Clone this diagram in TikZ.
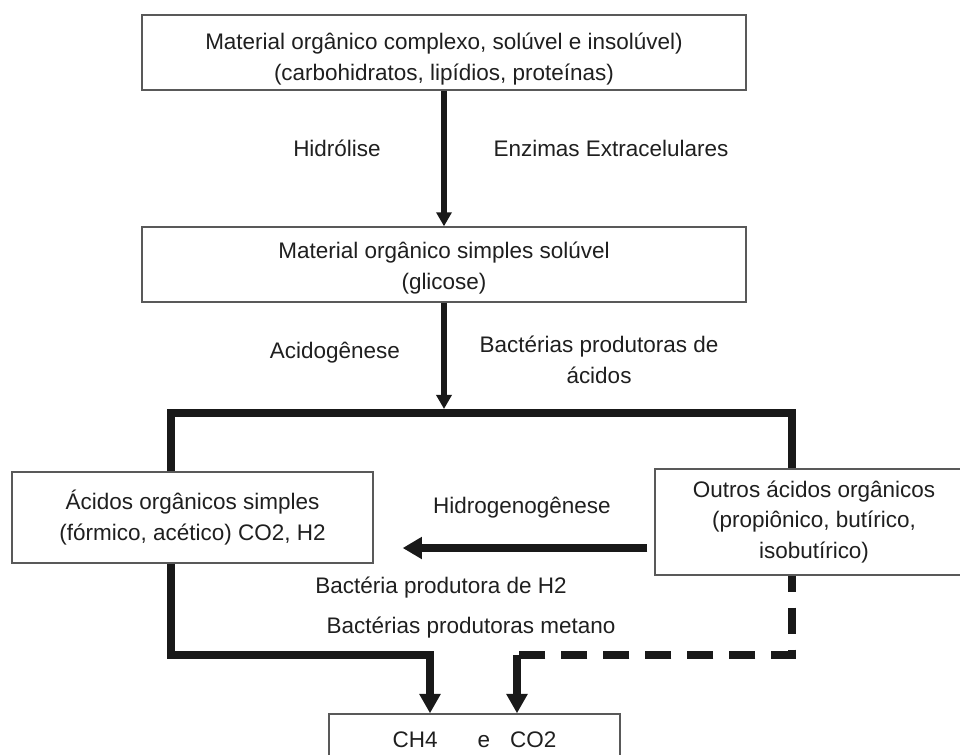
\documentclass[tikz,border=0pt]{standalone}
\usepackage{fontspec}
\setmainfont{Liberation Sans}
\usetikzlibrary{arrows.meta}

\begin{document}
\begin{tikzpicture}[
        x=0.02cm, y=-0.02cm,
        every node/.style={align=center, text=black!88, font=\fontsize{12.8}{17.5}\selectfont},
        box/.style={draw=black!65, line width=0.8pt, fill=white, inner sep=0pt},
        lbl/.style={inner sep=0pt},
        flow/.style={draw=black!90, line width=3.4pt, -{Triangle[length=8pt, width=8.5pt]}},
        flowb/.style={draw=black!90, line width=4pt, -{Triangle[length=11pt, width=11.5pt]}},
        hflow/.style={draw=black!90, line width=5pt, -{Triangle[length=11pt, width=12pt]}},
        bar/.style={draw=black!90, line width=4.5pt},
        dashflow/.style={draw=black!90, line width=4.5pt, dash pattern=on 0.52cm off 0.32cm, dash phase=0.2cm}
    ]
        \useasboundingbox (0,0) rectangle (960,754);

        % Nodes
        \node[box, minimum width=12.08cm, minimum height=1.5cm, text height=34pt] (mat) at (444,52.5)
            {Material orgânico complexo, solúvel e insolúvel)\\(carbohidratos, lipídios, proteínas)};
        \node[box, minimum width=12.08cm, minimum height=1.5cm, text height=31pt] (simp) at (444,264.5)
            {Material orgânico simples solúvel\\(glicose)};
        \node[box, minimum width=7.22cm, minimum height=1.82cm] (acsimp) at (192.5,517.5)
            {Ácidos orgânicos simples\\(fórmico, acético) CO2, H2};
        \node[box, minimum width=6.36cm, minimum height=2.12cm] (outros) at (814,522)
            {Outros ácidos orgânicos\\(propiônico, butírico,\\isobutírico)};
        \node[box, minimum width=5.82cm, minimum height=1.04cm] (ch4) at (474.5,740)
            {CH4\hspace{0.8cm}e\hspace{0.4cm}CO2};

        % Labels
        \node[lbl] (hidro) at (337,148) {Hidrólise};
        \node[lbl] (enz) at (611,148) {Enzimas Extracelulares};
        \node[lbl] (acido) at (335,353) {Acidogênese};
        \node[lbl] (bacac) at (599,360) {Bactérias produtoras de\\ácidos};
        \node[lbl] (hgen) at (522,508) {Hidrogenogênese};
        \node[lbl] (bach) at (441,588) {Bactéria produtora de H2};
        \node[lbl] (bacm) at (471,628) {Bactérias produtoras metano};

        % Junctions
        \coordinate (split) at (444,409);
        \coordinate (barL) at (171,413);
        \coordinate (barR) at (792,413);
        \coordinate (hlev) at (0,548);
        \coordinate (jL) at (430,655);
        \coordinate (jR) at (517,655);

        % Arrows
        \draw[flow] (mat) -- (simp);
        \draw[flow] (simp) -- (split);
        \draw[bar] (acsimp.north -| barL) -- (barL) -- (barR) -- (outros.north -| barR);
        \draw[hflow, shorten <=0.14cm, shorten >=0.58cm] (outros.west |- hlev) -- (acsimp.east |- hlev);
        \draw[flowb] (acsimp.south -| barL) |- (jL) -- (jL |- ch4.north);
        \draw[dashflow] (outros.south -| barR) |- (jR);
        \draw[flowb] (jR) -- (jR |- ch4.north);
\end{tikzpicture}
\end{document}
